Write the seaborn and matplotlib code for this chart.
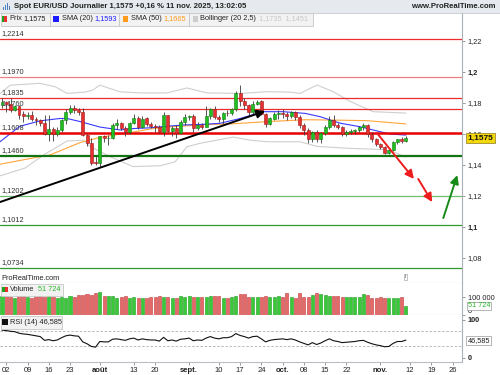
import numpy as np
import pandas as pd
import seaborn as sns
import matplotlib
matplotlib.use("Agg")
import matplotlib.pyplot as plt
from matplotlib.patches import Rectangle

# ---- data (bar index 0 = 1 juil. 2025, 95 = 11 nov. 2025) ----
opens = [1.1785, 1.1805, 1.1795, 1.1755, 1.1780, 1.1728, 1.1715, 1.1722, 1.1700, 1.1688,
         1.1668, 1.1602, 1.1632, 1.1598, 1.1625, 1.1690, 1.1740, 1.1770, 1.1755, 1.1742,
         1.1592, 1.1545, 1.1420, 1.1413, 1.1585, 1.1572, 1.1575, 1.1660, 1.1668, 1.1640,
         1.1612, 1.1672, 1.1705, 1.1645, 1.1700, 1.1665, 1.1650, 1.1648, 1.1612, 1.1720,
         1.1620, 1.1640, 1.1605, 1.1680, 1.1712, 1.1718, 1.1640, 1.1660, 1.1648, 1.1718,
         1.1760, 1.1710, 1.1695, 1.1735, 1.1733, 1.1760, 1.1865, 1.1815, 1.1785, 1.1745,
         1.1795, 1.1812, 1.1732, 1.1665, 1.1700, 1.1728, 1.1733, 1.1730, 1.1715, 1.1740,
         1.1712, 1.1655, 1.1625, 1.1565, 1.1615, 1.1570, 1.1605, 1.1645, 1.1690, 1.1655,
         1.1645, 1.1600, 1.1610, 1.1618, 1.1625, 1.1645, 1.1655, 1.1600, 1.1565, 1.1535,
         1.1518, 1.1480, 1.1495, 1.1548, 1.1565, 1.1558]
highs = [1.1830, 1.1810, 1.1830, 1.1790, 1.1790, 1.1750, 1.1745, 1.1750, 1.1710, 1.1695,
         1.1720, 1.1720, 1.1645, 1.1645, 1.1695, 1.1760, 1.1785, 1.1790, 1.1765, 1.1770,
         1.1600, 1.1575, 1.1455, 1.1590, 1.1595, 1.1595, 1.1670, 1.1700, 1.1680, 1.1650,
         1.1680, 1.1730, 1.1715, 1.1715, 1.1710, 1.1680, 1.1665, 1.1660, 1.1742, 1.1725,
         1.1650, 1.1655, 1.1690, 1.1730, 1.1725, 1.1730, 1.1675, 1.1670, 1.1780, 1.1770,
         1.1780, 1.1725, 1.1745, 1.1755, 1.1770, 1.1878, 1.1918, 1.1835, 1.1795, 1.1810,
         1.1820, 1.1820, 1.1735, 1.1710, 1.1740, 1.1755, 1.1760, 1.1745, 1.1750, 1.1750,
         1.1720, 1.1670, 1.1640, 1.1620, 1.1625, 1.1615, 1.1655, 1.1715, 1.1725, 1.1670,
         1.1650, 1.1625, 1.1630, 1.1635, 1.1650, 1.1670, 1.1665, 1.1610, 1.1575, 1.1545,
         1.1525, 1.1505, 1.1555, 1.1570, 1.1580, 1.1585]
lows = [1.1765, 1.1745, 1.1745, 1.1750, 1.1700, 1.1680, 1.1700, 1.1685, 1.1660, 1.1650,
        1.1595, 1.1555, 1.1555, 1.1590, 1.1610, 1.1665, 1.1730, 1.1735, 1.1720, 1.1585,
        1.1520, 1.1400, 1.1400, 1.1390, 1.1550, 1.1530, 1.1570, 1.1630, 1.1625, 1.1590,
        1.1600, 1.1665, 1.1630, 1.1640, 1.1650, 1.1640, 1.1615, 1.1605, 1.1590, 1.1615,
        1.1585, 1.1575, 1.1600, 1.1660, 1.1690, 1.1610, 1.1625, 1.1630, 1.1645, 1.1700,
        1.1700, 1.1680, 1.1665, 1.1715, 1.1725, 1.1750, 1.1780, 1.1760, 1.1725, 1.1730,
        1.1785, 1.1720, 1.1645, 1.1660, 1.1690, 1.1700, 1.1705, 1.1690, 1.1705, 1.1690,
        1.1640, 1.1595, 1.1540, 1.1550, 1.1550, 1.1540, 1.1595, 1.1635, 1.1645, 1.1635,
        1.1590, 1.1590, 1.1600, 1.1600, 1.1610, 1.1625, 1.1580, 1.1550, 1.1525, 1.1505,
        1.1470, 1.1468, 1.1490, 1.1535, 1.1545, 1.1550]
closes = [1.1805, 1.1795, 1.1755, 1.1780, 1.1720, 1.1715, 1.1722, 1.1700, 1.1688, 1.1668,
          1.1602, 1.1632, 1.1598, 1.1625, 1.1690, 1.1740, 1.1770, 1.1755, 1.1742, 1.1592,
          1.1545, 1.1412, 1.1413, 1.1585, 1.1572, 1.1575, 1.1660, 1.1668, 1.1640, 1.1612,
          1.1672, 1.1705, 1.1645, 1.1700, 1.1665, 1.1650, 1.1648, 1.1612, 1.1720, 1.1620,
          1.1640, 1.1605, 1.1680, 1.1712, 1.1718, 1.1640, 1.1660, 1.1648, 1.1718, 1.1760,
          1.1710, 1.1695, 1.1735, 1.1733, 1.1760, 1.1865, 1.1815, 1.1785, 1.1745, 1.1795,
          1.1805, 1.1732, 1.1665, 1.1700, 1.1728, 1.1733, 1.1730, 1.1715, 1.1740, 1.1712,
          1.1655, 1.1625, 1.1565, 1.1615, 1.1570, 1.1605, 1.1645, 1.1690, 1.1655, 1.1645,
          1.1600, 1.1610, 1.1618, 1.1625, 1.1645, 1.1655, 1.1600, 1.1565, 1.1535, 1.1518,
          1.1480, 1.1495, 1.1548, 1.1565, 1.1558, 1.1575]
volume = [109000, 106000, 102000, 94000, 113000, 109000, 102000, 98000, 106000, 113000,
          104000, 121000, 100000, 94000, 100000, 94000, 106000, 104000, 111000, 113000,
          121000, 113000, 126000, 128000, 109000, 106000, 109000, 98000, 102000, 109000,
          98000, 102000, 94000, 94000, 98000, 100000, 100000, 109000, 102000, 100000,
          98000, 94000, 109000, 102000, 106000, 100000, 102000, 104000, 104000, 108000,
          106000, 106000, 94000, 96000, 102000, 109000, 117000, 117000, 102000, 102000,
          102000, 102000, 109000, 102000, 104000, 109000, 102000, 123000, 102000, 94000,
          123000, 104000, 104000, 113000, 125000, 117000, 115000, 109000, 109000, 109000,
          102000, 100000, 102000, 102000, 100000, 117000, 113000, 94000, 98000, 100000,
          96000, 98000, 98000, 98000, 102000, 51724]
rsi = [73, 72, 70, 69, 65, 63, 62, 60, 58, 56, 46, 48, 45, 47, 53, 58, 60, 58, 57, 42,
       37, 30, 28, 43, 42, 42, 49, 50, 48, 46, 50, 52, 47, 50, 48, 47, 47, 44, 54, 45,
       47, 44, 49, 50, 52, 45, 47, 46, 52, 56, 52, 50, 53, 53, 56, 64, 59, 56, 52, 56,
       57, 50, 42, 46, 48, 49, 50, 48, 50, 47, 42, 38, 34, 40, 35, 39, 45, 50, 45, 43,
       40, 41, 42, 43, 45, 46, 41, 37, 34, 32, 29, 30, 38, 43, 43, 46.585]

# indicator curves, sampled along the bars
sma20_pos = [-0.47, 4.2, 9.0, 13.6, 15.3, 18.4, 23.0, 27.8, 30.8, 34.8, 38.8, 42.6,
             47.8, 51.3, 56.0, 61.4, 66.1, 71.3, 74.8, 79.5, 84.2, 88.9, 91.3, 95.0]
sma20_val = [1.1550, 1.1650, 1.1685, 1.1700, 1.1700, 1.1680, 1.1645, 1.1626, 1.1635,
             1.1640, 1.1650, 1.1658, 1.1663, 1.1669, 1.1700, 1.1744, 1.1744, 1.1733,
             1.1712, 1.1670, 1.1647, 1.1615, 1.1600, 1.1593]
sma50_pos = [-0.47, 7.3, 11.3, 18.4, 23.0, 30.8, 34.8, 38.8, 47.8, 54.4, 62.4, 71.3,
             77.9, 85.9, 95.0]
sma50_val = [1.1405, 1.1445, 1.1465, 1.1545, 1.1578, 1.1612, 1.1632, 1.1645, 1.1660,
             1.1666, 1.1680, 1.1692, 1.1690, 1.1686, 1.1665]
bb_up_pos = [-0.47, 1.9, 8.9, 12.5, 15.3, 19.5, 21.4, 23.0, 27.8, 32.5, 38.8, 43.5,
             48.2, 56.0, 62.4, 67.8, 70.1, 74.1, 77.9, 81.9, 87.3, 95.0]
bb_up_val = [1.1860, 1.1915, 1.1927, 1.1905, 1.1862, 1.1870, 1.1884, 1.1915, 1.1872,
             1.1865, 1.1865, 1.1897, 1.1865, 1.1862, 1.1873, 1.1870, 1.1862, 1.1916,
             1.1873, 1.1810, 1.1744, 1.1735]
bb_lo_pos = [-0.47, 5.4, 10.1, 15.3, 19.1, 20.7, 25.4, 30.8, 37.2, 40.7, 43.5, 46.6,
             54.4, 58.4, 62.4, 70.1, 74.1, 81.9, 89.6, 92.5, 95.0]
bb_lo_val = [1.1330, 1.1380, 1.1470, 1.1555, 1.1560, 1.1520, 1.1454, 1.1390, 1.1395,
             1.1420, 1.1518, 1.1540, 1.1580, 1.1560, 1.1550, 1.1550, 1.1520, 1.1507,
             1.1500, 1.1480, 1.1451]

# horizontal levels
levels = [1.2214, 1.1970, 1.1835, 1.1760, 1.1608, 1.1460, 1.1202, 1.1012, 1.0734]
level_labels = ["1,2214", "1,1970", "1,1835", "1,1760", "1,1608", "1,1460", "1,1202",
                "1,1012", "1,0734"]
level_colors = ["#ee2b2b", "#f38080", "#ee2b2b", "#ee2b2b", "#e60000", "#137413",
                "#6cbf6c", "#2f9a2f", "#2f9a2f"]
level_widths = [0.9, 0.9, 0.9, 0.9, 1.8, 1.6, 0.9, 0.9, 0.9]

# drawn arrows (start bar, start price, end bar, end price)
arrows = [(-0.47, 1.1161, 61.9, 1.1748, "black"),
          (88.2, 1.1606, 96.9, 1.1310, "#ee1c1c"),
          (97.9, 1.1310, 101.2, 1.1161, "#ee1c1c"),
          (103.8, 1.1058, 107.1, 1.1335, "#178a17")]

# axis ticks
price_ticks = [1.08, 1.10, 1.12, 1.14, 1.16, 1.18, 1.20, 1.22]
price_tick_labels = ["1,08", "1,1", "1,12", "1,14", "1,16", "1,18", "1,2", "1,22"]
date_pos = [1, 6, 11, 16, 23, 31, 36, 44, 51, 56, 61, 66, 71, 76, 81, 89, 96, 101, 106]
date_labels = ["02", "09", "16", "23", "août", "13", "20", "sept.", "10", "17", "24",
               "oct.", "08", "15", "22", "nov.", "12", "19", "26"]
month_labels = ["août", "sept.", "oct.", "nov."]

df = pd.DataFrame({"open": opens, "high": highs, "low": lows, "close": closes,
                   "volume": volume, "rsi": rsi})
df["bar"] = np.arange(len(df))
df["up"] = df["close"] >= df["open"]

sns.set_style("white")
plt.rcParams["font.family"] = ["Liberation Sans", "DejaVu Sans"]

W, H = 500, 375
fig = plt.figure(figsize=(5, 3.75), dpi=100)


def fx(px):
    return px / W


def fy(py):
    return 1 - py / H


XMIN, XMAX = -0.47, 108.2
ax_w = 462 / W
ax_p = fig.add_axes([0, fy(283), ax_w, (283 - 13) / H])
ax_v = fig.add_axes([0, fy(315), ax_w, (315 - 283) / H])
ax_r = fig.add_axes([0, fy(362), ax_w, (362 - 315) / H])

for a in (ax_p, ax_v, ax_r):
    a.set_xlim(XMIN, XMAX)
    for s in ("top", "left"):
        a.spines[s].set_visible(False)
    a.spines["right"].set_color("#a9b0b8")
    a.spines["bottom"].set_color("#b8bec4")
    a.spines["right"].set_linewidth(0.8)
    a.spines["bottom"].set_linewidth(0.8)
    a.yaxis.tick_right()
    a.tick_params(axis="y", length=2, width=0.6, color="#888", labelsize=5.3,
                  pad=2, labelcolor="#222")
    a.set_xticks([])
    a.set_facecolor("white")

# ---- price panel ----
ax_p.set_ylim(1.2 - (283 - 72) / 1550, 1.2 + (72 - 13) / 1550)
ax_p.set_yticks(price_ticks)
ax_p.set_yticklabels(price_tick_labels)
for t in ax_p.get_yticklabels():
    if t.get_text() in ("1,2", "1,1"):
        t.set_fontweight("bold")

sns.lineplot(x=bb_up_pos, y=bb_up_val, ax=ax_p, color="#cfcfcf", lw=0.8, zorder=1)
sns.lineplot(x=bb_lo_pos, y=bb_lo_val, ax=ax_p, color="#cfcfcf", lw=0.8, zorder=1)
sns.lineplot(x=sma50_pos, y=sma50_val, ax=ax_p, color="#ffa53a", lw=0.8, zorder=2)
sns.lineplot(x=sma20_pos, y=sma20_val, ax=ax_p, color="#3a3aff", lw=0.8, zorder=2)

for lv, lab, col, lw in zip(levels, level_labels, level_colors, level_widths):
    ax_p.axhline(lv, color=col, lw=lw, zorder=3)
    ax_p.text(0.004, lv + 0.0012, lab, transform=ax_p.get_yaxis_transform(),
              fontsize=5.3, color="#333", va="bottom", ha="left", zorder=6)

body_w = 0.7
ax_p.vlines(df["bar"], df["low"], df["high"], color="#3a3a3a", lw=0.6, zorder=4)
for _, r in df.iterrows():
    lo = min(r["open"], r["close"])
    h = max(abs(r["close"] - r["open"]), 0.0003)
    fc = "#1fbf1f" if r["up"] else "#e83030"
    ec = "#137a13" if r["up"] else "#9a1a1a"
    ax_p.bar(r["bar"], h, bottom=lo, width=body_w, color=fc, edgecolor=ec,
             linewidth=0.4, zorder=5)

for x0, y0, x1, y1, col in arrows:
    ax_p.annotate("", xy=(x1, y1), xytext=(x0, y0),
                  arrowprops=dict(arrowstyle="-|>,head_length=0.5,head_width=0.25",
                                  color=col, lw=1.4, shrinkA=0, shrinkB=0),
                  zorder=7)

ax_p.annotate("1,1575", xy=(1.0, closes[-1]), xycoords=("axes fraction", "data"),
              xytext=(4, 0), textcoords="offset points", fontsize=6, weight="bold",
              va="center", ha="left", color="#111",
              bbox=dict(boxstyle="square,pad=0.15", fc="#f4d70a", ec="#8a7a20", lw=0.5),
              annotation_clip=False, zorder=10)

ax_p.text(0.004, (283 - 278) / 270, "ProRealTime.com", transform=ax_p.transAxes,
          fontsize=5.3, color="#222", va="center", ha="left")
ax_p.text(94.9, (283 - 277) / 270, "i", transform=ax_p.get_xaxis_transform(),
          fontsize=4.5, color="#666", ha="center", va="center",
          bbox=dict(boxstyle="square,pad=0.15", fc="white", ec="#aaa", lw=0.5))

# ---- volume panel ----
ax_v.set_ylim(0, (315 - 283) / 17.7 * 100000)
ax_v.set_yticks([0, 100000])
ax_v.set_yticklabels(["0", "100 000"])
ax_v.get_yticklabels()[0].set_va("bottom")
vol_colors = ["#38c838" if u else "#e46a6a" for u in df["up"]]
vol_edges = ["#1f9a1f" if u else "#c23a3a" for u in df["up"]]
ax_v.bar(df["bar"], df["volume"], width=0.72, color=vol_colors, edgecolor=vol_edges,
         linewidth=0.4, zorder=2)
ax_v.annotate("51 724", xy=(1.0, 51724), xycoords=("axes fraction", "data"),
              xytext=(4, 0), textcoords="offset points", fontsize=5.3, color="#2cb82c",
              va="center", ha="left",
              bbox=dict(boxstyle="square,pad=0.1", fc="white", ec="#999", lw=0.5),
              annotation_clip=False, zorder=10)

# ---- RSI panel ----
ax_r.set_ylim(-(362 - 357.7) / 0.377, 100 + (320 - 315) / 0.377)
ax_r.set_yticks([0, 100])
ax_r.set_yticklabels(["0", "100"])
for t in ax_r.get_yticklabels():
    t.set_fontweight("bold")
for lv in (70, 30):
    ax_r.axhline(lv, color="#b0b0b0", lw=0.6, ls=(0, (3, 2)), zorder=1)
sns.lineplot(data=df, x="bar", y="rsi", ax=ax_r, color="#111", lw=0.8, zorder=3)
ax_r.set_xlabel("")
ax_r.set_ylabel("")
ax_r.annotate("46,585", xy=(1.0, rsi[-1]), xycoords=("axes fraction", "data"),
              xytext=(4, 0), textcoords="offset points", fontsize=5.3, color="#222",
              va="center", ha="left",
              bbox=dict(boxstyle="square,pad=0.15", fc="white", ec="#999", lw=0.5),
              annotation_clip=False, zorder=10)
ax_r.set_xticks(date_pos)
ax_r.set_xticklabels(date_labels)
ax_r.tick_params(axis="x", length=2, width=0.6, color="#888", labelsize=5.5, pad=1.5,
                 labelcolor="#222", bottom=True)
for t in ax_r.get_xticklabels():
    if t.get_text() in month_labels:
        t.set_fontweight("bold")
ax_v.set_xlabel("")
ax_v.set_ylabel("")
ax_p.set_xlabel("")
ax_p.set_ylabel("")

# ---- header ----
fig.patches.append(Rectangle((0, fy(12.5)), 1, 12.5 / H, transform=fig.transFigure,
                             fc="#e6eaee", ec="none", zorder=0))
fig.lines.append(plt.Line2D([0, 1], [fy(12.5), fy(12.5)], transform=fig.transFigure,
                            color="#c4c9ce", lw=0.6))
for k, hgt in enumerate([3, 5, 7, 4]):
    fig.patches.append(Rectangle((fx(3 + k * 2), fy(10)), fx(1.2), hgt / H,
                                 transform=fig.transFigure, fc="#4a7fc0", ec="none"))
fig.text(fx(14), fy(6.5), "Spot EUR/USD Journalier 1,1575 +0,16 % 11 nov. 2025, 13:02:05",
         fontsize=5.6, weight="bold", color="#222", va="center", ha="left")
fig.text(fx(496), fy(6.5), "www.ProRealTime.com", fontsize=5.6, weight="bold",
         color="#222", va="center", ha="right")


def legend_box(x0, x1, y0, y1):
    fig.patches.append(Rectangle((fx(x0), fy(y1)), fx(x1 - x0), (y1 - y0) / H,
                                 transform=fig.transFigure, fc="#f2f2f2", ec="#c8c8c8",
                                 lw=0.6, zorder=5))


def square(x, yc, colors):
    n = len(colors)
    for k, c in enumerate(colors):
        fig.patches.append(Rectangle((fx(x + k * 5.5 / n), fy(yc + 2.8)), fx(5.5 / n),
                                     5.6 / H, transform=fig.transFigure, fc=c,
                                     ec="none", zorder=6))


def legend_text(x, yc, s, color="#222"):
    fig.text(fx(x), fy(yc), s, fontsize=5.3, color=color, va="center", ha="left",
             zorder=7)


yc = 19
legend_box(0.5, 50, 13, 25.5)
square(1.5, yc, ["#1fa01f", "#e83030"])
legend_text(9.5, yc, "Prix")
legend_text(23, yc, "1,1575")
legend_box(50, 119, 13, 25.5)
square(53, yc, ["#1a1aff"])
legend_text(61.5, yc, "SMA (20)")
legend_text(94.5, yc, "1,1593", "#2020ff")
legend_box(119, 189, 13, 25.5)
square(122.5, yc, ["#ff9a1a"])
legend_text(131, yc, "SMA (50)")
legend_text(163, yc, "1,1665", "#ff9a1a")
legend_box(189, 313, 13, 25.5)
square(192.5, yc, ["#cccccc"])
legend_text(200, yc, "Bollinger (20 2,5)")
legend_text(259, yc, "1,1735  1,1451", "#c8c8c8")

yv = 289.5
legend_box(0.5, 63, 283.5, 295.5)
square(2, yv, ["#1fa01f", "#e83030"])
legend_text(10, yv, "Volume")
legend_text(37.5, yv, "51 724", "#2cb82c")

yr = 322
legend_box(0.5, 62, 316, 328.5)
square(2, yr, ["#111111"])
legend_text(10, yr, "RSI (14) 46,585")

fig.savefig("out.png", dpi=100)
